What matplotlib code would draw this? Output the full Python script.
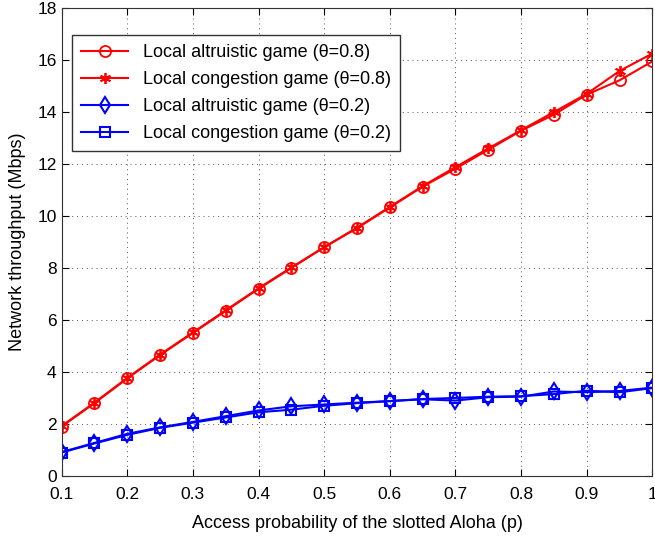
import matplotlib
matplotlib.use("Agg")
import matplotlib.pyplot as plt

plt.rcParams['font.family'] = ['Liberation Sans', 'DejaVu Sans']

p = [0.1, 0.15, 0.2, 0.25, 0.3, 0.35, 0.4, 0.45, 0.5, 0.55,
     0.6, 0.65, 0.7, 0.75, 0.8, 0.85, 0.9, 0.95, 1.0]

altruistic_08 = [1.9, 2.8, 3.75, 4.65, 5.5, 6.35, 7.2, 8.0, 8.8, 9.53,
                 10.33, 11.13, 11.82, 12.55, 13.28, 13.9, 14.67, 15.22, 15.95]
congestion_08 = [1.92, 2.82, 3.77, 4.67, 5.52, 6.37, 7.22, 8.02, 8.8, 9.55,
                 10.35, 11.15, 11.88, 12.6, 13.3, 14.0, 14.7, 15.58, 16.25]
altruistic_02 = [0.92, 1.27, 1.62, 1.87, 2.08, 2.3, 2.52, 2.68, 2.75, 2.82,
                 2.88, 2.95, 2.9, 3.03, 3.05, 3.25, 3.22, 3.27, 3.4]
congestion_02 = [0.9, 1.25, 1.58, 1.85, 2.05, 2.25, 2.45, 2.55, 2.7, 2.8,
                 2.88, 2.96, 3.0, 3.05, 3.07, 3.15, 3.28, 3.22, 3.38]

fig = plt.figure(figsize=(6.55, 5.36), dpi=100)
ax = fig.add_axes([0.094, 0.112, 0.902, 0.873])

ax.plot(p, altruistic_08, color='red', marker='o', mfc='none', ms=8, mew=1.3, lw=1.5,
        label='Local altruistic game (\u03b8=0.8)')
ax.plot(p, congestion_08, color='red', marker=(6, 2, 0), ms=8, mew=1.3, lw=1.5,
        label='Local congestion game (\u03b8=0.8)')
ax.plot(p, altruistic_02, color='blue', marker='d', mfc='none', ms=8, mew=1.5, lw=1.5,
        label='Local altruistic game (\u03b8=0.2)')
ax.plot(p, congestion_02, color='blue', marker='s', mfc='none', ms=6.5, mew=1.5, lw=1.5,
        label='Local congestion game (\u03b8=0.2)')

ax.set_xlim(0.1, 1)
ax.set_ylim(0, 18)
ax.set_xticks([0.1, 0.2, 0.3, 0.4, 0.5, 0.6, 0.7, 0.8, 0.9, 1])
ax.set_xticklabels(['0.1', '0.2', '0.3', '0.4', '0.5', '0.6', '0.7', '0.8', '0.9', '1'])
ax.set_yticks(range(0, 19, 2))
ax.tick_params(direction='in', labelsize=12.5, top=True, right=True, length=5)
ax.tick_params(axis='x', pad=8)
ax.grid(True, linestyle=(0, (1, 4)), color='#555555', lw=0.7)
for s in ax.spines.values():
    s.set_color('#333333')

ax.set_xlabel('Access probability of the slotted Aloha (p)', fontsize=13, labelpad=9)
ax.set_ylabel('Network throughput (Mbps)', fontsize=13, labelpad=8)

leg = ax.legend(loc='upper left', bbox_to_anchor=(0.012, 0.95), fontsize=13,
                fancybox=False, edgecolor='#333333', framealpha=1,
                handlelength=2.6, borderaxespad=0.2, labelspacing=0.55,
                borderpad=0.5)

plt.savefig('out.png', dpi=100)
